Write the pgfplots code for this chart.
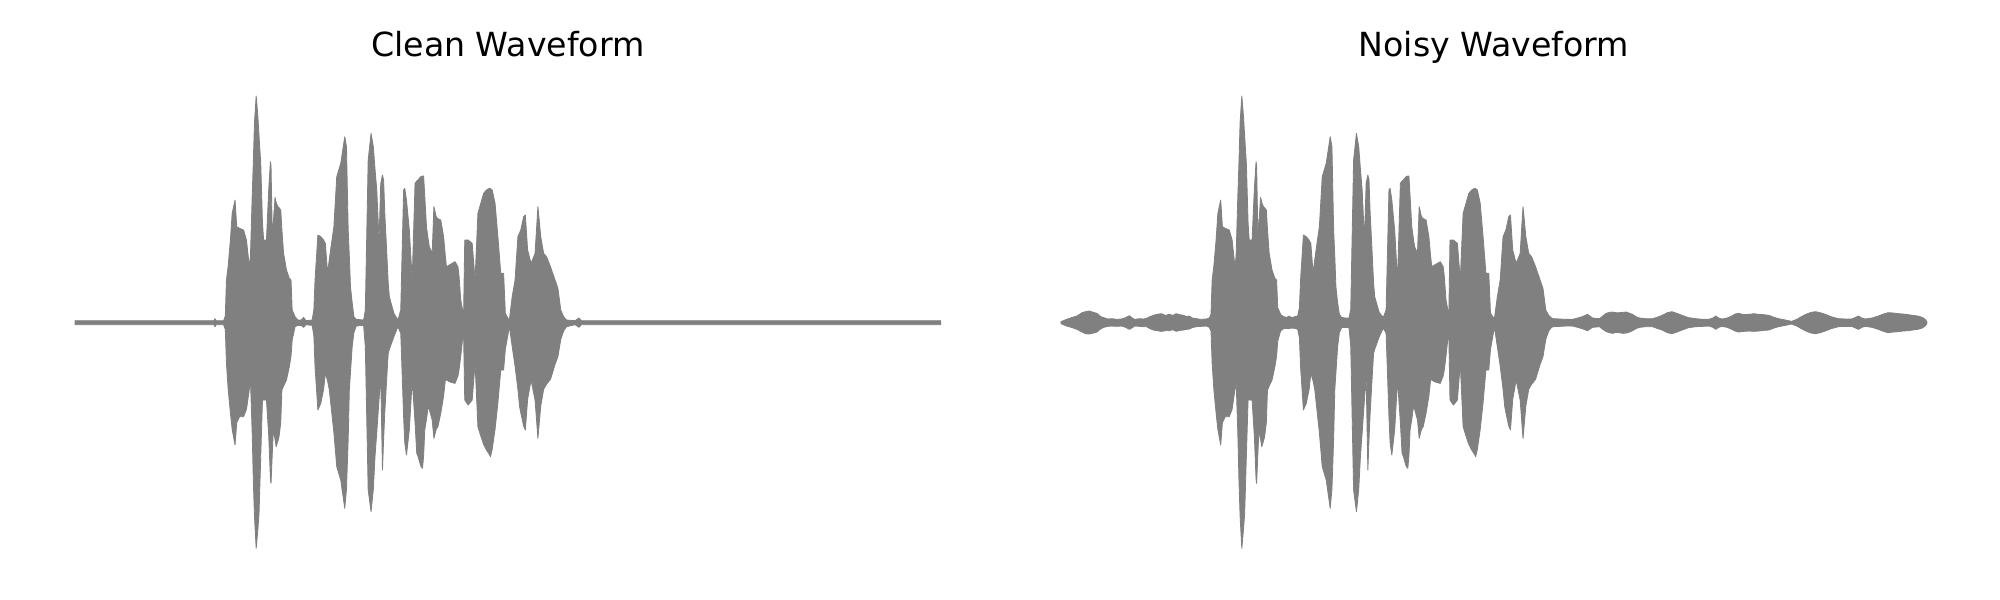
\documentclass[border=0pt]{standalone}
\usepackage{pgfplots}
\pgfplotsset{compat=1.18}
\usepackage{pgfplotstable}
\usepgfplotslibrary{fillbetween}
\usepackage{fontspec}
\setmainfont{DejaVu Sans}
\definecolor{wf}{RGB}{128,128,128}

% envelope of the clean waveform: x, upper, lower
\pgfplotstableread{
x up lo
40 6 -6
283 6 -6
285 12 -12
287 6 -6
300 6 -6
303 20 -20
305 128 -122
308 170 -200
312 250 -272
315 328 -320
320 368 -367
323 288 -300
328 283 -282
335 278 -282
340 248 -260
345 168 -200
347 200 -172
350 378 -330
352 480 -472
354 600 -580
357 680 -677
360 618 -620
362 560 -572
365 478 -400
368 300 -232
370 248 -232
375 248 -232
379 400 -340
382 483 -470
383 470 -482
385 278 -400
387 300 -322
390 376 -350
392 360 -372
395 348 -355
397 345 -342
400 338 -300
402 280 -202
405 208 -190
410 158 -172
415 133 -132
418 128 -100
420 38 -52
425 18 -12
430 8 -8
436 8 -8
440 16 -14
444 6 -6
455 8 -8
458 40 -40
460 128 -132
465 263 -262
470 258 -242
475 248 -200
478 238 -152
482 148 -175
485 190 -202
488 228 -250
493 288 -330
498 438 -432
505 478 -472
512 558 -557
515 528 -500
518 278 -350
520 200 -202
522 108 -150
525 60 -72
528 18 -30
532 10 -10
545 8 -8
548 38 -72
553 488 -502
558 568 -567
562 528 -500
565 460 -400
568 398 -330
572 248 -230
575 418 -162
578 443 -442
580 428 -350
582 330 -272
585 228 -180
588 120 -92
590 78 -80
598 28 -42
605 8 -12
610 38 -32
615 398 -282
617 403 -360
620 368 -397
625 278 -322
630 128 -172
635 418 -300
638 425 -392
640 428 -400
645 438 -430
648 440 -437
650 440 -400
652 380 -322
655 288 -290
658 250 -252
660 228 -260
665 208 -292
668 348 -347
672 318 -320
675 312 -312
680 308 -272
685 258 -220
688 200 -172
690 168 -172
695 173 -177
700 178 -180
705 183 -182
710 168 -160
712 140 -142
715 68 -100
718 40 -52
720 28 -40
722 248 -232
728 248 -247
735 238 -232
740 128 -122
745 328 -312
750 358 -340
755 388 -365
760 398 -382
765 403 -395
767 402 -402
770 398 -380
775 358 -320
780 258 -240
785 148 -142
790 148 -142
793 28 -80
798 12 -32
800 8 -10
805 78 -72
810 128 -130
815 258 -200
818 270 -252
820 278 -270
825 318 -310
828 323 -322
832 218 -230
838 178 -172
845 208 -232
850 348 -347
855 258 -250
860 208 -200
865 198 -185
872 168 -170
880 128 -125
885 103 -102
890 38 -50
895 18 -25
900 8 -12
915 6 -6
922 14 -14
926 6 -6
1555 6 -6
}\cleandata

% envelope of the noisy waveform: x, upper, lower
\pgfplotstableread{
x up lo
40 3 -3
50 10 -10
60 16 -15
68 20 -20
77 30 -28
83 33 -33
89 35 -34
95 32 -32
103 28 -28
110 18 -18
115 15 -14
122 11 -11
129 12 -10
138 10 -11
146 11 -10
152 14 -13
160 21 -20
165 14 -15
169 10 -10
178 12 -11
185 11 -12
190 13 -12
196 18 -18
202 22 -22
208 25 -24
216 27 -26
223 22 -24
230 25 -24
236 22 -21
242 27 -26
248 24 -23
255 22 -22
260 18 -20
265 20 -19
270 14 -15
277 12 -12
285 10 -11
295 11 -10
300 14 -14
303 25 -25
305 128 -122
308 170 -200
312 250 -272
315 328 -320
320 368 -367
323 288 -300
328 283 -282
335 278 -282
340 248 -260
345 168 -200
347 200 -172
350 378 -330
352 480 -472
354 600 -580
357 680 -677
360 618 -620
362 560 -572
365 478 -400
368 300 -232
370 248 -232
375 248 -232
379 400 -340
382 483 -470
383 470 -482
385 278 -400
387 300 -322
390 376 -350
392 360 -372
395 348 -355
397 345 -342
400 338 -300
402 280 -202
405 208 -190
410 158 -172
415 133 -132
418 128 -100
420 45 -55
425 25 -25
430 18 -18
436 16 -17
440 20 -18
444 15 -16
450 18 -17
455 20 -20
458 45 -45
460 128 -132
465 263 -262
470 258 -242
475 248 -200
478 238 -152
482 148 -175
485 190 -202
488 228 -250
493 288 -330
498 438 -432
505 478 -472
512 558 -557
515 528 -500
518 278 -350
520 200 -202
522 108 -150
525 60 -72
528 25 -30
532 16 -15
538 14 -14
545 14 -15
548 40 -72
553 488 -502
558 568 -567
562 528 -500
565 460 -400
568 398 -330
572 248 -230
575 418 -162
578 443 -442
580 428 -350
582 330 -272
585 228 -180
588 120 -92
590 78 -80
598 30 -42
605 16 -16
610 38 -32
615 398 -282
617 403 -360
620 368 -397
625 278 -322
630 128 -172
635 418 -300
638 425 -392
640 428 -400
645 438 -430
648 440 -437
650 440 -400
652 380 -322
655 288 -290
658 250 -252
660 228 -260
665 208 -292
668 348 -347
672 318 -320
675 312 -312
680 308 -272
685 258 -220
688 200 -172
690 168 -172
695 173 -177
700 178 -180
705 183 -182
710 168 -160
712 140 -142
715 68 -100
718 40 -52
720 28 -40
722 248 -232
728 248 -247
735 238 -232
740 128 -122
745 328 -312
750 358 -340
755 388 -365
760 398 -382
765 403 -395
767 402 -402
770 398 -380
775 358 -320
780 258 -240
785 148 -142
790 148 -142
793 28 -80
798 16 -32
800 14 -14
805 78 -72
810 128 -130
815 258 -200
818 270 -252
820 278 -270
825 318 -310
828 323 -322
832 218 -230
838 178 -172
845 208 -232
850 348 -347
855 258 -250
860 208 -200
865 198 -185
872 168 -170
880 128 -125
885 103 -102
890 38 -50
895 22 -25
900 14 -14
903 12 -12
915 11 -11
925 10 -10
937 10 -10
946 14 -14
954 18 -18
963 25 -24
972 14 -14
984 12 -12
990 20 -20
996 28 -27
1002 31 -30
1007 32 -32
1013 30 -29
1019 30 -30
1025 31 -32
1031 32 -31
1037 28 -28
1042 25 -24
1048 18 -18
1054 14 -14
1065 12 -12
1077 12 -12
1085 16 -17
1094 22 -22
1103 30 -30
1111 33 -33
1120 28 -28
1129 22 -22
1140 15 -15
1153 12 -12
1165 10 -11
1176 10 -10
1183 14 -14
1188 20 -20
1193 14 -14
1199 11 -11
1208 14 -14
1216 20 -20
1222 26 -25
1228 28 -28
1237 24 -26
1246 25 -25
1255 27 -26
1263 25 -25
1272 24 -23
1281 22 -22
1290 16 -16
1298 12 -12
1310 8 -8
1321 4 -4
1330 10 -10
1338 18 -18
1346 25 -25
1355 31 -31
1363 33 -33
1371 30 -30
1380 25 -25
1390 18 -18
1403 12 -12
1415 11 -11
1426 11 -11
1432 15 -15
1438 20 -20
1444 14 -14
1450 11 -11
1462 14 -14
1473 20 -20
1482 26 -26
1490 30 -30
1499 29 -28
1508 27 -27
1516 26 -25
1525 24 -24
1533 22 -22
1542 20 -20
1550 16 -16
1555 10 -10
1558 3 -3
}\noisydata

\pgfplotsset{
  wave/.style={
    anchor=south west, width=4.81in, height=2.488in, scale only axis,
    ymin=-745, ymax=748, hide axis, clip=false,
    title style={at={(0.5,1)}, anchor=base,
                 font=\fontsize{12pt}{14pt}\selectfont},
  },
}

\begin{document}
\begin{tikzpicture}
\begin{axis}[wave, at={(0.1345in,0.145in)}, xmin=-44.2, xmax=1639.2,
             title={Clean Waveform}]
  \addplot[name path=cu, draw=none] table[x=x, y=up] {\cleandata};
  \addplot[name path=cl, draw=none] table[x=x, y=lo] {\cleandata};
  \addplot[fill=wf, draw=wf, line width=0.3pt, line join=round] fill between[of=cu and cl];
\end{axis}
\begin{axis}[wave, at={(5.0645in,0.145in)}, xmin=-44.3, xmax=1642.3,
             title={Noisy Waveform}]
  \addplot[name path=nu, draw=none] table[x=x, y=up] {\noisydata};
  \addplot[name path=nl, draw=none] table[x=x, y=lo] {\noisydata};
  \addplot[fill=wf, draw=wf, line width=0.3pt, line join=round] fill between[of=nu and nl];
\end{axis}
\pgfresetboundingbox
\path (0,0) rectangle (10in,3in);
\end{tikzpicture}
\end{document}
